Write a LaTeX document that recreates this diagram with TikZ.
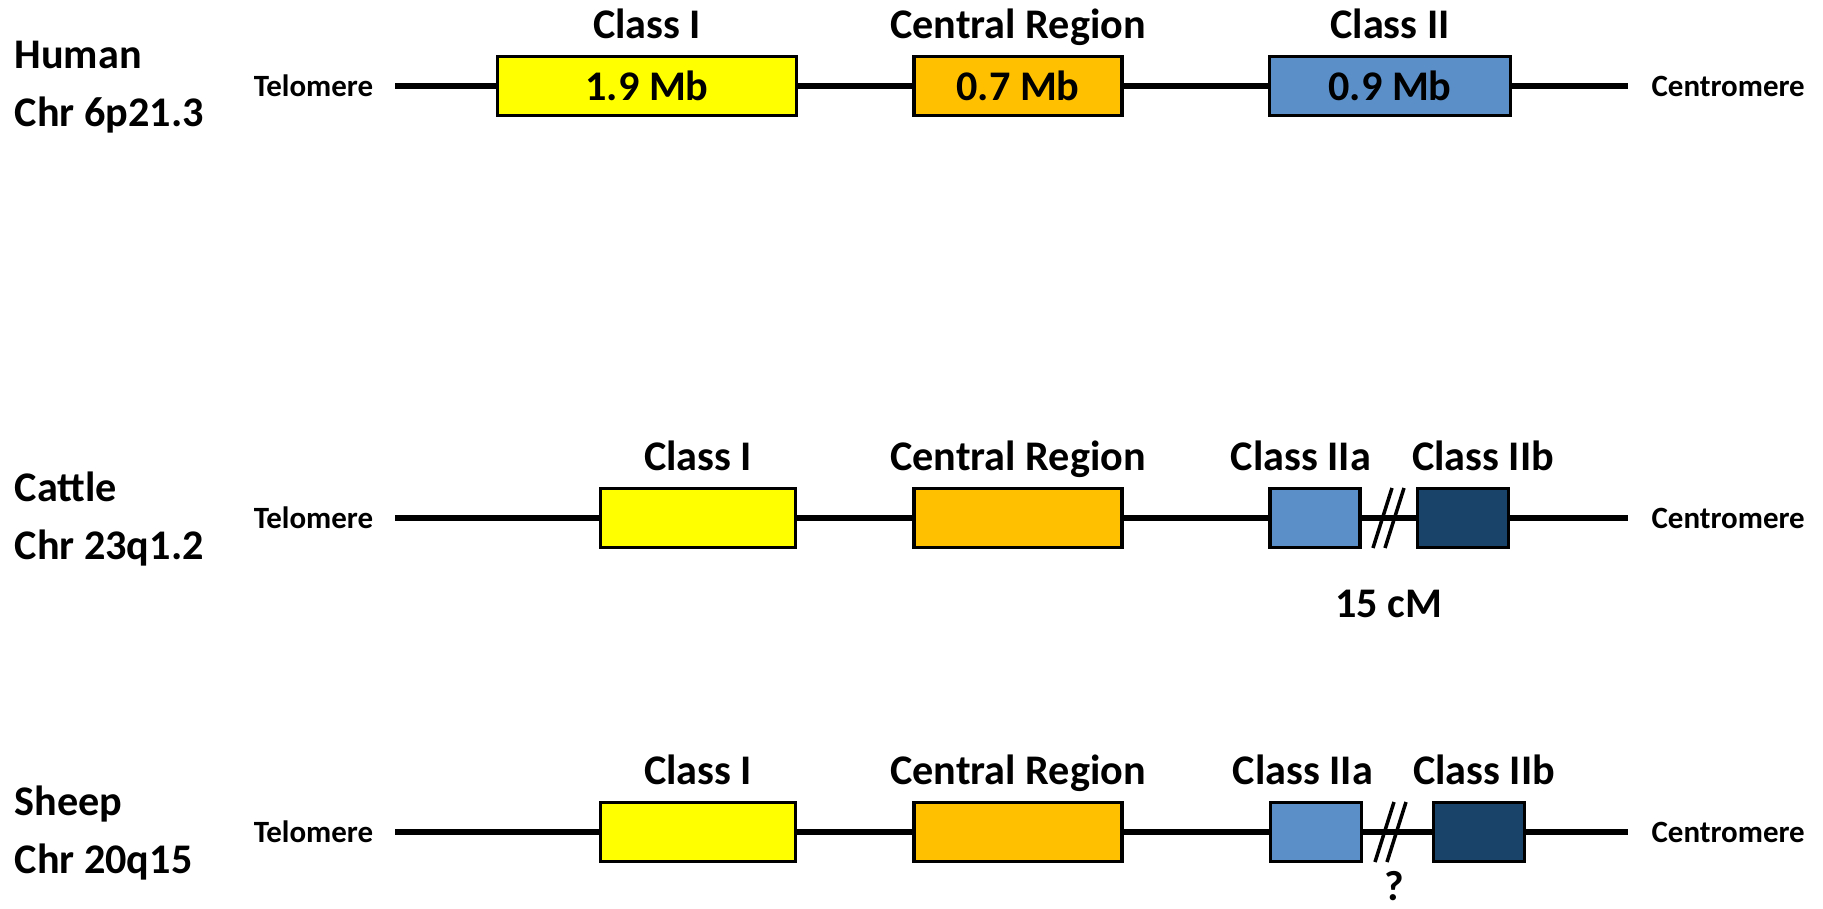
\documentclass[tikz,border=0pt]{standalone}
\usepackage{fontspec}
\setmainfont{Carlito}
\usetikzlibrary{positioning}
\definecolor{clsone}{HTML}{FFFF00}
\definecolor{central}{HTML}{FFC000}
\definecolor{clstwo}{HTML}{5B8FC7}
\definecolor{clstwob}{HTML}{1A4369}
\begin{document}
\begin{tikzpicture}[x=0.01cm, y=-0.01cm,
   region/.style={draw, line width=0.9pt, minimum height=0.59cm, inner sep=0pt,
                  font=\fontsize{12}{14}\selectfont\bfseries},
   label distance=4.5pt,
   every label/.style={inner sep=0pt, text depth=0pt, font=\fontsize{12}{14}\selectfont\bfseries},
   chrom/.style={line width=1.7pt},
   endlbl/.style={inner sep=0pt, font=\fontsize{8.8}{10}\selectfont\bfseries},
   species/.style={anchor=west, align=left, inner sep=0pt, font=\fontsize{12}{16.5}\selectfont\bfseries},
   brk/.style={line width=1pt}]
\useasboundingbox (0,0) rectangle (1823,908);

% chromosome ends
\foreach \r/\y in {h/86,c/518,s/832} {
   \coordinate (\r T) at (395,\y);
   \coordinate (\r E) at (1628,\y);
   \node[endlbl, left=6pt of \r T] (\r Tl) {Telomere};
   \node[endlbl, right=6.5pt of \r E] (\r El) {Centromere};
}

% human
\node[species] (hSp) at (14,87) {Human\\Chr 6p21.3};
\node[region, fill=clsone, minimum width=2.98cm, label=90:Class I] (hI) at (647,86) {1.9 Mb};
\node[region, fill=central, minimum width=2.08cm, label=90:Central Region] (hC) at (1018,86) {0.7 Mb};
\node[region, fill=clstwo, minimum width=2.41cm, label=90:Class II] (hII) at (1390,86) {0.9 Mb};
\draw[chrom] (hT) -- (hI) -- (hC) -- (hII) -- (hE);

% cattle
\node[species] (cSp) at (14,519) {Cattle\\Chr 23q1.2};
\node[region, fill=clsone, minimum width=1.95cm, label=90:Class I] (cI) at (698,518) {};
\node[region, fill=central, minimum width=2.08cm, label=90:Central Region] (cC) at (1018,518) {};
\node[region, fill=clstwo, minimum width=0.9cm, label={[xshift=-0.14cm]90:Class IIa}] (cIIa) at (1315,518) {};
\node[region, fill=clstwob, minimum width=0.91cm, label={[xshift=0.2cm]90:Class IIb}] (cIIb) at (1463,518) {};
\draw[chrom] (cT) -- (cI) -- (cC) -- (cIIa) -- (cIIb) -- (cE);
\coordinate (cBrk) at (1388,518);
\node[every label] (cDist) at (1389,604) {15 cM};

% sheep
\node[species] (sSp) at (14,833) {Sheep\\Chr 20q15};
\node[region, fill=clsone, minimum width=1.95cm, label=90:Class I] (sI) at (698,832) {};
\node[region, fill=central, minimum width=2.08cm, label=90:Central Region] (sC) at (1018,832) {};
\node[region, fill=clstwo, minimum width=0.91cm, label={[xshift=-0.13cm]90:Class IIa}] (sIIa) at (1316,832) {};
\node[region, fill=clstwob, minimum width=0.91cm, label={[xshift=0.05cm]90:Class IIb}] (sIIb) at (1479,832) {};
\draw[chrom] (sT) -- (sI) -- (sC) -- (sIIa) -- (sIIb) -- (sE);
\coordinate (sBrk) at (1390,832);
\node[every label] (sUnk) at (1394,886) {?};

% gaps
\foreach \r in {c,s} {
   \draw[brk] (\r Brk) ++(-15,30) -- ++(19,-60);
   \draw[brk] (\r Brk) ++(-3,30) -- ++(19,-60);
}
\end{tikzpicture}
\end{document}
